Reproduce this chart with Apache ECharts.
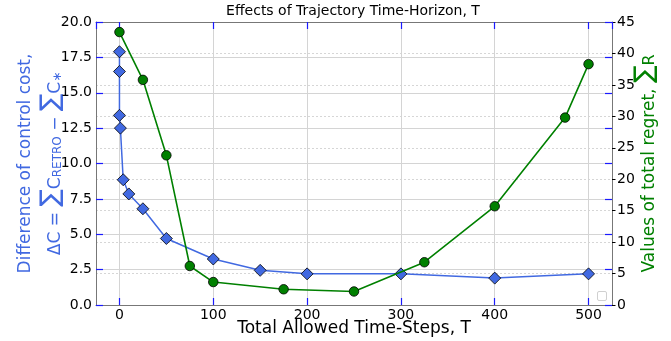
<!DOCTYPE html>
<html>
<head>
<meta charset="utf-8">
<script src="https://cdn.jsdelivr.net/npm/echarts@6/dist/echarts.min.js"></script>
<style>html,body{margin:0;padding:0;background:#fff;}#c{width:671px;height:341px;}</style>
</head>
<body>
<div id="c"></div>
<script>
// ---- data ----
const costT      = [0, 0, 0, 1, 4, 10, 25, 50, 100, 150, 200, 300, 400, 500];
const costVals   = [17.9, 16.5, 13.4, 12.5, 8.85, 7.85, 6.8, 4.7, 3.25, 2.45, 2.2, 2.2, 1.9, 2.2];
const regretT    = [0, 25, 50, 75, 100, 175, 250, 325, 400, 475, 500];
const regretVals = [43.4, 35.8, 23.8, 6.2, 3.65, 2.5, 2.15, 6.8, 15.7, 29.8, 38.3];
const xRange     = [-25, 525];
const costRange  = [0, 20];
const costStep   = 2.5;
const regretRange = [0, 45];
const regretStep = 5;

const FONT = 'DejaVu Sans';
const BLUE = '#4169E1';
const GREEN = '#008000';
const TICKBLUE = '#1a1aff';
const FRAME = '#777777';

const chart = echarts.init(document.getElementById('c'), null, {renderer: 'canvas'});

const costData = costT.map((t, i) => [t, costVals[i]]);
const regretData = regretT.map((t, i) => [t, regretVals[i]]);

chart.setOption({
  animation: false,
  backgroundColor: '#ffffff',
  textStyle: {fontFamily: FONT},
  title: {
    text: 'Effects of Trajectory Time-Horizon, T',
    left: 353, top: 4, padding: 0, textAlign: 'center',
    textStyle: {fontFamily: FONT, fontSize: 14, fontWeight: 'normal', color: '#000'}
  },
  grid: {left: 96, right: 59, top: 22, bottom: 36, containLabel: false, outerBoundsMode: 'none'},
  xAxis: [{
    type: 'value', min: xRange[0], max: xRange[1], splitNumber: 5,
    position: 'bottom',
    name: 'Total Allowed Time-Steps, T', nameLocation: 'middle', nameGap: 15, nameMoveOverlap: false,
    nameTextStyle: {fontFamily: FONT, fontSize: 17, color: '#000'},
    axisLine: {show: true, onZero: false, lineStyle: {color: FRAME, width: 1}},
    axisTick: {show: true, inside: true, length: 7, lineStyle: {color: TICKBLUE, width: 1.2}},
    axisLabel: {show: true, margin: 3, fontFamily: FONT, fontSize: 14, color: '#000', showMinLabel: false, showMaxLabel: false},
    splitLine: {show: true, lineStyle: {color: '#d4d4d4', width: 1}}
  }, {
    type: 'value', min: xRange[0], max: xRange[1], splitNumber: 5,
    position: 'top',
    axisLine: {show: true, onZero: false, lineStyle: {color: FRAME, width: 1}},
    axisTick: {show: true, inside: true, length: 7, lineStyle: {color: TICKBLUE, width: 1.2}},
    axisLabel: {show: false},
    splitLine: {show: false}
  }],
  yAxis: [{
    type: 'value', min: costRange[0], max: costRange[1], interval: costStep,
    position: 'left',
    name: '{a|Difference of control cost,}\n{b|ΔC = }{s|∑}{b|C}{sub|RETRO}{b| − }{s|∑}{b|C}{sub|∗}',
    nameLocation: 'middle', nameRotate: 90, nameGap: 32, nameMoveOverlap: false,
    nameTextStyle: {
      fontFamily: FONT, color: BLUE, align: 'center',
      rich: {
        a: {fontFamily: FONT, fontSize: 17, color: BLUE, lineHeight: 29, verticalAlign: 'bottom'},
        b: {fontFamily: FONT, fontSize: 17, color: BLUE, lineHeight: 24, verticalAlign: 'bottom'},
        s: {fontFamily: FONT, fontSize: 26, color: BLUE, lineHeight: 30, verticalAlign: 'bottom'},
        sub: {fontFamily: FONT, fontSize: 12, color: BLUE, lineHeight: 14, verticalAlign: 'bottom'}
      }
    },
    axisLine: {show: true, onZero: false, lineStyle: {color: FRAME, width: 1}},
    axisTick: {show: true, inside: true, length: 7, lineStyle: {color: TICKBLUE, width: 1.2}},
    axisLabel: {show: true, margin: 4, fontFamily: FONT, fontSize: 14, color: '#000', formatter: v => v.toFixed(1)},
    splitLine: {show: true, lineStyle: {color: '#d4d4d4', width: 1}}
  }, {
    type: 'value', min: regretRange[0], max: regretRange[1], interval: regretStep,
    position: 'right',
    name: '{a|Values of total regret, }{s|∑}{b|R}',
    nameLocation: 'middle', nameRotate: 90, nameGap: 16, nameMoveOverlap: false,
    nameTextStyle: {
      fontFamily: FONT, color: GREEN,
      rich: {
        a: {fontFamily: FONT, fontSize: 17, color: GREEN, lineHeight: 26, verticalAlign: 'bottom'},
        b: {fontFamily: FONT, fontSize: 16, color: GREEN, lineHeight: 24, verticalAlign: 'bottom'},
        s: {fontFamily: FONT, fontSize: 26, color: GREEN, lineHeight: 30, verticalAlign: 'bottom'}
      }
    },
    axisLine: {show: true, onZero: false, lineStyle: {color: FRAME, width: 1}},
    axisTick: {show: true, inside: false, length: 3.5, lineStyle: {color: '#000', width: 1}},
    axisLabel: {show: true, margin: 5, fontFamily: FONT, fontSize: 14, color: '#000'},
    splitLine: {show: true, lineStyle: {color: '#cccccc', width: 0.8, type: [2, 2]}}
  }, {
    type: 'value', min: costRange[0], max: costRange[1], interval: costStep,
    position: 'right',
    axisLine: {show: false, onZero: false},
    axisTick: {show: true, inside: true, length: 7, lineStyle: {color: TICKBLUE, width: 1.2}},
    axisLabel: {show: false},
    splitLine: {show: false}
  }],
  graphic: [{
    type: 'rect', left: 597, top: 291, z: 100,
    shape: {width: 9, height: 9, r: 1.5},
    style: {fill: '#ffffff', stroke: '#d0d0d0', lineWidth: 1}
  }],
  series: [{
    type: 'line', name: 'cost', xAxisIndex: 0, yAxisIndex: 0, z: 2,
    data: costData,
    symbol: 'diamond', symbolSize: 12,
    lineStyle: {color: BLUE, width: 1.5},
    itemStyle: {color: BLUE, borderColor: '#000', borderWidth: 0.8},
    emphasis: {disabled: true}
  }, {
    type: 'line', name: 'regret', xAxisIndex: 0, yAxisIndex: 1, z: 3,
    data: regretData,
    symbol: 'circle', symbolSize: 9.5,
    lineStyle: {color: GREEN, width: 1.6},
    itemStyle: {color: GREEN, borderColor: '#000', borderWidth: 0.8},
    emphasis: {disabled: true}
  }]
});
</script>
</body>
</html>
